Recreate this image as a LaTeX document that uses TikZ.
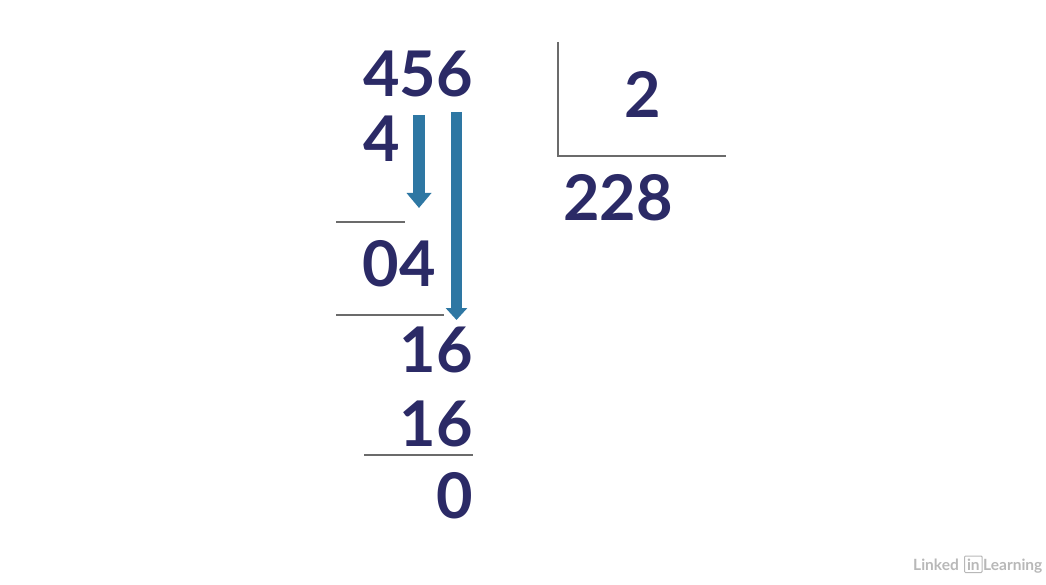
\documentclass[tikz,border=0pt]{standalone}
\usepackage{fontspec}
\setmainfont{Lato}
\usepackage{xcolor}
\usepackage{tikz}
\usetikzlibrary{arrows.meta}
\definecolor{numcol}{HTML}{2B2A66}
\definecolor{arrcol}{HTML}{2E77A3}
\definecolor{rulecol}{HTML}{6B6B6B}
\definecolor{logocol}{HTML}{B8B8B8}
\tikzset{
  digit/.style={text=numcol,font=\fontsize{63}{63}\selectfont\bfseries,inner sep=0pt,anchor=base east},
  rulebar/.style={rulecol,line width=1.6pt},
  longarrow/.style={arrcol,line width=11pt,-{Triangle[width=21pt,length=12pt]}},
  shortarrow/.style={arrcol,line width=12pt,-{Triangle[width=24pt,length=15pt]}},
  logotext/.style={text=logocol,font=\fontsize{15.5}{15.5}\selectfont\bfseries,inner sep=0pt,anchor=base west}
}
\begin{document}
\begin{tikzpicture}[x=1pt,y=-1pt]
  \useasboundingbox (0,0) rectangle (1046,585);
  \node [digit] (dividend) at (473,97) {456};
  \node [digit] (firstdigit) at (400,162) {4};
  \node [digit] (rem) at (436,287) {04};
  \node [digit] (drop) at (473,372) {16};
  \node [digit] (sub) at (473,446) {16};
  \node [digit] (zero) at (473,518) {0};
  \node [digit] (divisor) at (661,118) {2};
  \node [digit] (quot) at (673,221) {228};
  % rules
  \draw [rulebar] (336,222) -- (405,222);
  \draw [rulebar] (336,315) -- (444,315);
  \draw [rulebar] (364,455) -- (473,455);
  \draw [rulebar] (558,42) -- (558,156) -- (726,156);
  % arrows
  \coordinate (a1s) at (419,115);
  \coordinate (a1e) at (419,208);
  \coordinate (a2s) at (456.5,112);
  \coordinate (a2e) at (456.5,320);
  \draw [shortarrow] (a1s) -- (a1e);
  \draw [longarrow] (a2s) -- (a2e);
  % logo
  \node [logotext] (logoa) at (913,570) {Linked};
  \node [logotext,draw=logocol,line width=1pt,inner sep=2.5pt,rounded corners=1pt] (logob) at (964,570) {in};
  \node [logotext] (logoc) at (983,570) {Learning};
\end{tikzpicture}
\end{document}
